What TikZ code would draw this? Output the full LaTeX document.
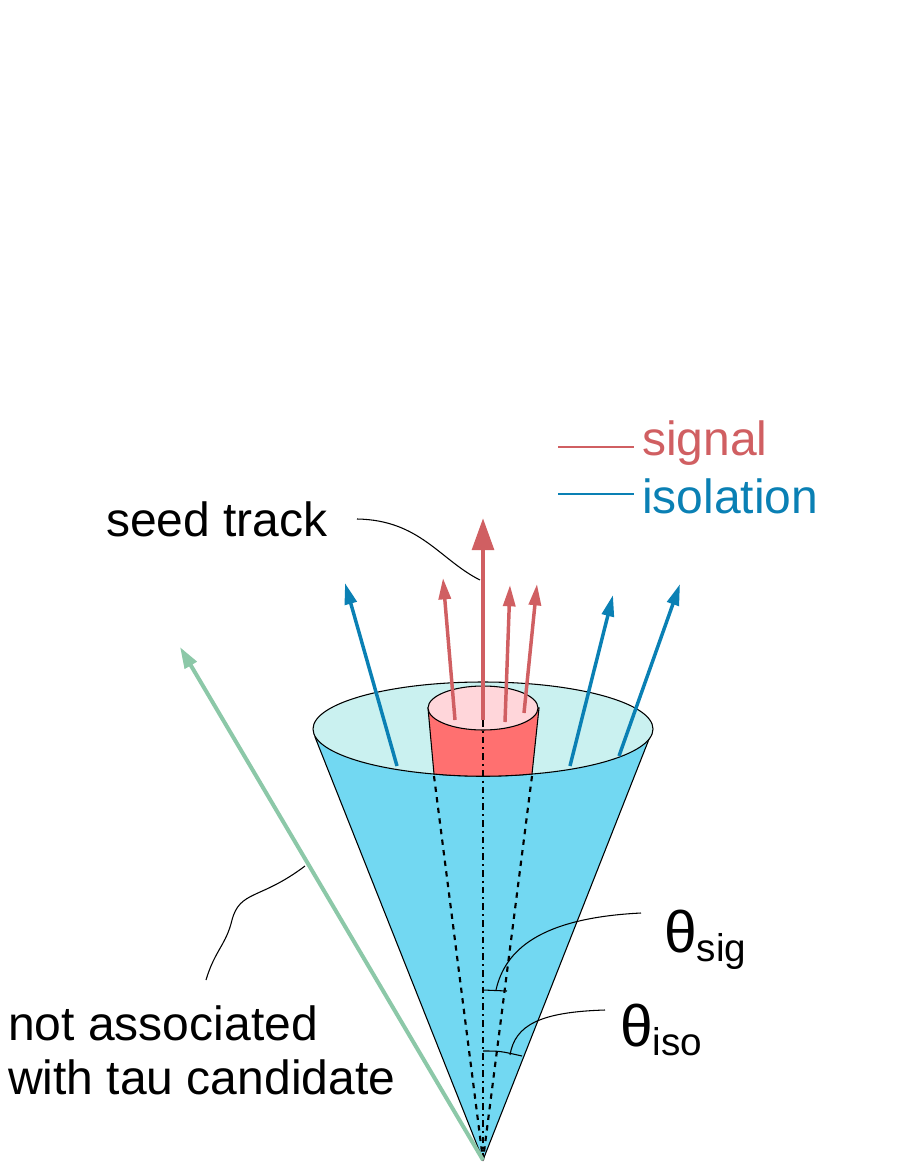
\documentclass[tikz,border=0pt]{standalone}
\usepackage{fontspec}
\setmainfont{Liberation Sans}
\usetikzlibrary{arrows.meta}
\definecolor{sigred}{HTML}{D05F62}
\definecolor{cylred}{HTML}{FF7070}
\definecolor{cyltop}{HTML}{FFD6DA}
\definecolor{isoblue}{HTML}{0A80B4}
\definecolor{conecol}{HTML}{72D8F2}
\definecolor{conetop}{HTML}{CAF1F0}
\definecolor{grn}{HTML}{8CC8A8}
\begin{document}
\begin{tikzpicture}[x=0.75pt,y=-0.75pt,
  sigarrow/.style={sigred,line width=2.6pt,-{Triangle[length=16pt,width=9pt]}},
  isoarrow/.style={isoblue,line width=2.6pt,-{Triangle[length=16pt,width=9pt]}},
  leader/.style={black,line width=0.8pt},
  lbl/.style={inner sep=0pt,font=\fontsize{36}{41}\selectfont}]
\useasboundingbox (0,0) rectangle (900,1164);
% cone
\coordinate (apex) at (483,1160);
\fill[conecol,draw=black,line width=0.8pt] (apex) -- (315,737) arc[start angle=190,end angle=350,x radius=170,y radius=47] -- cycle;
\fill[conetop,draw=black,line width=0.8pt] (483,729) ellipse[x radius=170,y radius=47];
% signal cylinder
\fill[cylred,draw=black,line width=0.8pt] (428,708) -- (434,774) .. controls (466,777) and (500,777) .. (532,774) -- (539,708) -- cycle;
\fill[cyltop,draw=black,line width=0.8pt] (483,708) ellipse[x radius=55,y radius=22];
% dotted lines
\draw[dash pattern=on 4pt off 4pt,line width=1.6pt] (434,776) -- (apex);
\draw[dash pattern=on 4pt off 4pt,line width=1.6pt] (532,776) -- (apex);
\draw[dash pattern=on 5pt off 3pt on 1.5pt off 3pt,line width=1.6pt] (483,720) -- (apex);
% arrows
\draw[sigarrow,line width=3.6pt,-{Triangle[length=24pt,width=16pt]}] (483,720) -- (483,518);
\draw[sigarrow] (455,720) -- (443,578);
\draw[sigarrow] (505,722) -- (510,585);
\draw[sigarrow] (524,713) -- (537,584);
\draw[isoarrow] (397,766) -- (345,583);
\draw[isoarrow] (570,766) -- (613,595);
\draw[isoarrow] (619,756) -- (680,584);
\draw[grn,line width=3pt,-{Triangle[length=16pt,width=10pt]}] (apex) -- (180,647);
% angle marks
\draw[leader] (483,990) -- (507,991);
\draw[leader] (483,1051) .. controls (500,1051) .. (522,1056);
% labels
\node[lbl,anchor=west] (seed) at (106,519) {seed track};
\draw[leader] (357,519) .. controls (420,520) and (440,560) .. (480,580);
\node[lbl,anchor=west,sigred] (sig) at (642,443) {signal};
\draw[sigred,line width=1.6pt] (558,447) -- (634,447);
\node[lbl,anchor=west,isoblue] (iso) at (642,496) {isolation};
\draw[isoblue,line width=1.6pt] (558,494) -- (634,494);
\node[inner sep=0pt,anchor=west,font=\fontsize{44}{50}\selectfont] (ts) at (664,940) {θ\raisebox{-0.3ex}{\fontsize{29}{35}\selectfont sig}};
\draw[leader] (641,913) .. controls (540,918) and (505,950) .. (496,990);
\node[inner sep=0pt,anchor=west,font=\fontsize{44}{50}\selectfont] (ti) at (620,1030) {θ\raisebox{-0.3ex}{\fontsize{29}{35}\selectfont iso}};
\draw[leader] (605,1010) .. controls (540,1012) and (515,1025) .. (510,1055);
\node[lbl,anchor=north west,align=left] (nat) at (8,1005) {not associated\\with tau candidate};
\draw[leader] (305,866) .. controls (260,900) and (240,890) .. (232,920) .. controls (226,945) and (215,950) .. (206,980);
\end{tikzpicture}
\end{document}
